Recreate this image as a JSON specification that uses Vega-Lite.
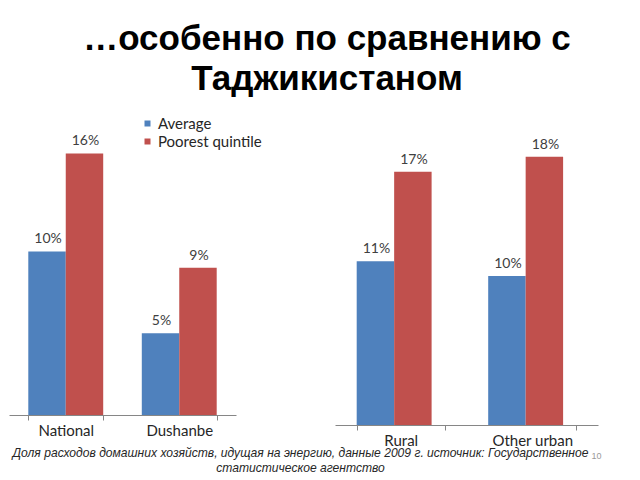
{
  "$schema": "https://vega.github.io/schema/vega-lite/v6.json",
  "background": "white",
  "padding": {"left": 9, "top": 22, "right": 0, "bottom": 0},
  "config": {
    "view": {"stroke": null},
    "font": "Lato",
    "axis": {"labelFont": "Lato", "labelColor": "#404040"}
  },
  "title": {
    "text": ["…особенно по сравнению с", "Таджикистаном"],
    "font": "Liberation Sans",
    "fontSize": 35,
    "fontWeight": "bold",
    "lineHeight": 40,
    "color": "#000000",
    "anchor": "start",
    "align": "center",
    "frame": "group",
    "dx": 318,
    "offset": 8
  },
  "bounds": "flush",
  "spacing": 99,
  "datasets": {
    "shares": [
      {"panel": "left", "cat": "National", "series": "Average", "value": 0.10},
      {"panel": "left", "cat": "National", "series": "Poorest quintile", "value": 0.16},
      {"panel": "left", "cat": "Dushanbe", "series": "Average", "value": 0.05},
      {"panel": "left", "cat": "Dushanbe", "series": "Poorest quintile", "value": 0.09},
      {"panel": "right", "cat": "Rural", "series": "Average", "value": 0.11},
      {"panel": "right", "cat": "Rural", "series": "Poorest quintile", "value": 0.17},
      {"panel": "right", "cat": "Other urban", "series": "Average", "value": 0.10},
      {"panel": "right", "cat": "Other urban", "series": "Poorest quintile", "value": 0.18}
    ]
  },
  "hconcat": [
    {
      "width": 227,
      "height": 310,
      "data": {"name": "shares"},
      "transform": [{"filter": "datum.panel === 'left'"}],
      "encoding": {
        "x": {
          "field": "cat", "type": "nominal", "sort": ["National", "Dushanbe"],
          "title": ["Доля расходов домашних хозяйств, идущая на энергию, данные 2009 г. источник: Государственное", "статистическое агентство"],
          "scale": {"paddingInner": 0.34, "paddingOuter": 0.17},
          "axis": {
            "labelAngle": 0, "labelFontSize": 15, "tickBand": "extent", "tickSize": 5, "labelPadding": 3,
            "domainColor": "#868686", "tickColor": "#868686", "labelColor": "#262626",
            "titleFont": "Liberation Sans", "titleFontStyle": "italic", "titleFontWeight": "normal", "titleFontSize": 12.1,
            "titleLineHeight": 15, "titleColor": "#262626", "titleX": 291, "titleY": 41,
            "titleAlign": "center", "titleBaseline": "alphabetic", "titleAnchor": "start"
          }
        },
        "xOffset": {"field": "series", "type": "nominal", "sort": ["Average", "Poorest quintile"]},
        "y": {"field": "value", "type": "quantitative", "scale": {"domain": [0, 0.1896], "nice": false}, "axis": null}
      },
      "layer": [
        {
          "mark": {"type": "bar"},
          "encoding": {
            "color": {
              "field": "series", "type": "nominal",
              "scale": {"domain": ["Average", "Poorest quintile"], "range": ["#4F81BD", "#C0504D"]},
              "legend": {
                "title": null, "orient": "none", "legendX": 131, "legendY": 11,
                "symbolType": "square", "symbolSize": 36, "symbolStrokeWidth": 0, "symbolOpacity": 1,
                "labelFont": "Lato", "labelFontSize": 15, "labelColor": "#262626", "labelOffset": 3, "rowPadding": 2
              }
            }
          }
        },
        {
          "mark": {"type": "text", "baseline": "bottom", "dy": -5, "dx": 1, "fontSize": 14, "font": "Lato", "color": "#404040"},
          "encoding": {"text": {"field": "value", "type": "quantitative", "format": ".0%"}}
        }
      ]
    },
    {
      "width": 263,
      "height": 320,
      "data": {"name": "shares"},
      "transform": [{"filter": "datum.panel === 'right'"}],
      "encoding": {
        "x": {
          "field": "cat", "type": "nominal", "sort": ["Rural", "Other urban"],
          "title": "10",
          "scale": {"paddingInner": 0.33, "paddingOuter": 0.165},
          "axis": {
            "labelAngle": 0, "labelFontSize": 15, "tickBand": "extent", "tickSize": 5, "labelPadding": 3,
            "domainColor": "#868686", "tickColor": "#868686", "labelColor": "#262626",
            "titleFont": "Liberation Sans", "titleFontWeight": "normal", "titleFontSize": 9, "titleColor": "#9a9a9a",
            "titleX": 256, "titleY": 33, "titleAlign": "left", "titleBaseline": "alphabetic", "titleAnchor": "start"
          }
        },
        "xOffset": {"field": "series", "type": "nominal", "sort": ["Average", "Poorest quintile"]},
        "y": {"field": "value", "type": "quantitative", "scale": {"domain": [0, 0.2148], "nice": false}, "axis": null}
      },
      "layer": [
        {
          "mark": {"type": "bar"},
          "encoding": {
            "color": {
              "field": "series", "type": "nominal",
              "scale": {"domain": ["Average", "Poorest quintile"], "range": ["#4F81BD", "#C0504D"]},
              "legend": null
            }
          }
        },
        {
          "mark": {"type": "text", "baseline": "bottom", "dy": -5, "dx": 1, "fontSize": 14, "font": "Lato", "color": "#404040"},
          "encoding": {"text": {"field": "value", "type": "quantitative", "format": ".0%"}}
        }
      ]
    }
  ]
}
